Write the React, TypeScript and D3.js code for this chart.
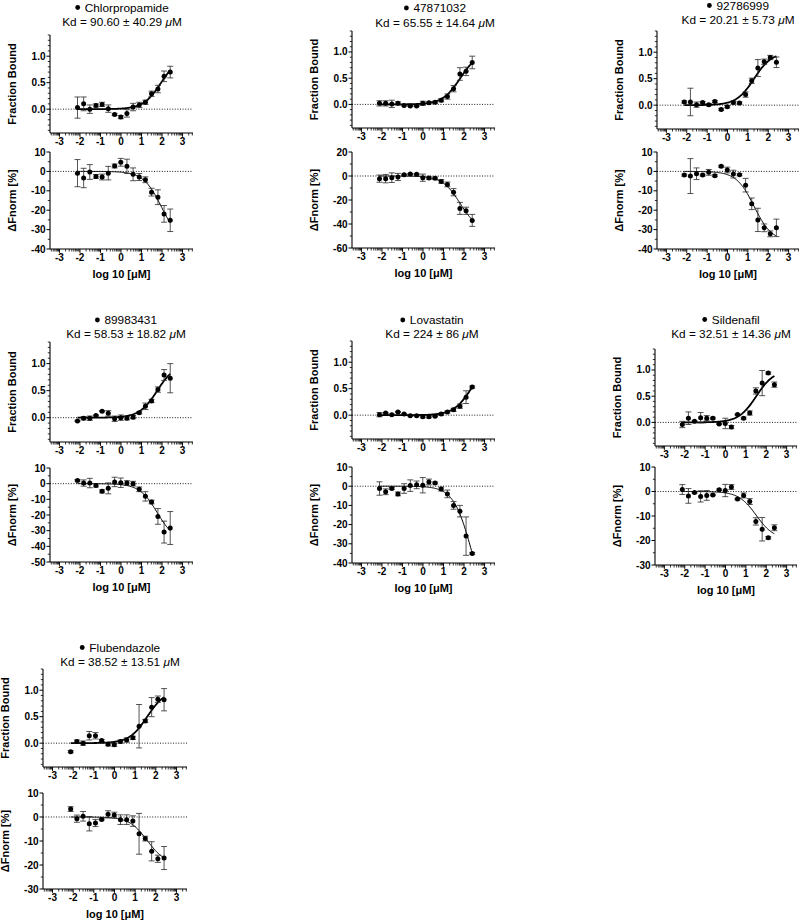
import React from 'react';
import * as d3 from 'd3';

// log10 of concentration [µM], 16-point serial dilution from 250 µM
const logConc = [-2.12, -1.82, -1.52, -1.22, -0.92, -0.62, -0.31, -0.01, 0.29, 0.59, 0.89, 1.19, 1.49, 1.80, 2.10, 2.40];

const compounds = ['Chlorpropamide', '47871032', '92786999', '89983431', 'Lovastatin', 'Sildenafil', 'Flubendazole'];
const kdValues = [90.60, 65.55, 20.21, 58.53, 224, 32.51, 38.52];
const kdLabels = ['90.60 ± 40.29', '65.55 ± 14.64', '20.21 ± 5.73', '58.53 ± 18.82', '224 ± 86', '32.51 ± 14.36', '38.52 ± 13.51'];
// fitted ΔFnorm amplitude per compound
const fnormAmplitude = [-36, -46, -36, -37, -66, -19.5, -19.6];

// Fraction bound (mean, error) per compound
const fbChlorpropamide = [0.03, 0.10, 0.00, 0.07, 0.09, 0.01, -0.10, -0.15, -0.08, 0.04, 0.08, 0.13, 0.29, 0.38, 0.62, 0.70];
const fbErrChlorpropamide = [0.20, 0.13, 0.08, 0.03, 0.04, 0.07, 0.02, 0.03, 0.07, 0.07, 0.05, 0.04, 0.05, 0.07, 0.10, 0.11];
const fb47871032 = [0.02, 0.02, 0.01, 0.02, -0.02, -0.03, -0.03, 0.02, 0.03, 0.04, 0.08, 0.15, 0.30, 0.58, 0.63, 0.80];
const fbErr47871032 = [0.05, 0.05, 0.07, 0.03, 0.01, 0.01, 0.01, 0.04, 0.02, 0.02, 0.03, 0.05, 0.06, 0.12, 0.08, 0.12];
const fb92786999 = [0.06, 0.06, 0.01, 0.05, 0.01, 0.07, -0.08, -0.03, 0.05, 0.04, 0.20, 0.46, 0.70, 0.82, 0.90, 0.81];
const fbErr92786999 = [0.02, 0.26, 0.05, 0.02, 0.02, 0.02, 0.02, 0.02, 0.03, 0.02, 0.05, 0.05, 0.16, 0.05, 0.04, 0.10];
const fb89983431 = [-0.06, -0.01, -0.01, 0.04, 0.12, 0.08, -0.02, 0.00, -0.01, 0.01, 0.09, 0.21, 0.31, 0.52, 0.79, 0.73];
const fbErr89983431 = [0.01, 0.03, 0.04, 0.01, 0.01, 0.05, 0.05, 0.05, 0.03, 0.03, 0.02, 0.06, 0.03, 0.05, 0.10, 0.27];
const fbLovastatin = [0.01, 0.04, 0.01, 0.06, 0.02, -0.01, -0.01, -0.03, -0.03, -0.02, 0.02, 0.06, 0.10, 0.17, 0.34, 0.53];
const fbErrLovastatin = [0.04, 0.01, 0.01, 0.01, 0.01, 0.01, 0.01, 0.02, 0.02, 0.01, 0.02, 0.02, 0.03, 0.04, 0.12, 0.02];
const fbSildenafil = [-0.04, 0.08, 0.02, 0.09, 0.08, 0.08, -0.03, -0.02, -0.09, 0.15, 0.08, 0.18, 0.60, 0.75, 0.94, 0.72];
const fbErrSildenafil = [0.06, 0.12, 0.01, 0.10, 0.05, 0.02, 0.01, 0.10, 0.03, 0.01, 0.02, 0.04, 0.06, 0.24, 0.02, 0.05];
const fbFlubendazole = [-0.16, 0.03, 0.00, 0.14, 0.14, 0.05, -0.02, -0.03, 0.03, 0.06, 0.10, 0.32, 0.42, 0.68, 0.83, 0.82];
const fbErrFlubendazole = [0.02, 0.03, 0.04, 0.08, 0.06, 0.02, 0.03, 0.03, 0.03, 0.04, 0.03, 0.41, 0.03, 0.18, 0.06, 0.21];

// ΔFnorm [%] (mean, error) per compound
const fnChlorpropamide = [-0.9, -3.4, -0.3, -2.6, -2.9, -0.9, 2.8, 4.7, 2.6, -1.5, -2.9, -4.3, -10.7, -13.3, -21.9, -25.2];
const fnErrChlorpropamide = [7, 5, 3.8, 1, 1.5, 3.5, 1, 2, 3.7, 3.3, 1.8, 1.5, 2, 3.8, 4.3, 5.8];
const fn47871032 = [-2.2, -2.2, -1.4, -0.8, 1.1, 1.7, 1.4, -1.4, -1.7, -1.9, -4.5, -7, -13.5, -27, -29, -37];
const fnErr47871032 = [3, 3.5, 4, 3, 0.5, 0.5, 0.5, 3, 1, 1, 1.5, 2, 3, 5, 3, 5];
const fn92786999 = [-1.9, -2.4, -1.2, -1.9, -0.5, -2.2, 2.6, 0.7, -1.4, -1.7, -7.1, -16.7, -25, -29.1, -32.2, -29.1];
const fnErr92786999 = [0.5, 9, 3, 0.5, 1.5, 0.5, 0.5, 1.5, 2, 0.5, 3.5, 3, 6, 2, 1.5, 4.5];
const fn89983431 = [2.1, 0.4, 0.4, -1.1, -4.9, -3.0, 1.1, 0.6, 0.4, 0.0, -3.6, -8.1, -11.7, -20.9, -30.9, -28.3];
const fnErr89983431 = [0.5, 2, 3, 1, 1, 3.5, 3, 3, 1.5, 1.5, 1.5, 3, 1.2, 5, 7, 10.5];
const fnLovastatin = [-1.2, -2.9, -1.2, -4.0, -1.2, 0.3, 0.7, 0.5, 2.2, 1.7, -1.5, -4, -10, -13, -26, -35];
const fnErrLovastatin = [3.5, 1.5, 0.5, 1, 2.5, 3, 2, 4, 1.5, 0.5, 1, 2, 2, 3, 10, 0.5];
const fnSildenafil = [0.8, -1.8, -0.4, -2.0, -1.6, -1.4, 0.7, 0.4, 1.8, -3.1, -1.6, -4.1, -12.2, -15.4, -18.9, -14.8];
const fnErrSildenafil = [2, 3, 0.3, 2.3, 2, 0.3, 0.3, 2.5, 1, 0.3, 1, 1.2, 1.5, 4.8, 0.5, 1.2];
const fnFlubendazole = [3.3, -0.7, 0.3, -2.8, -2.5, -1.0, 1.1, 0.8, -1.1, -1.1, -1.7, -7.0, -9.0, -14.3, -17.4, -17.1];
const fnErrFlubendazole = [1, 1.5, 2, 3, 1.5, 0.3, 1.5, 1.2, 2, 2, 2.2, 8.5, 1, 4, 1.5, 4.8];

const fractionBound = [fbChlorpropamide, fb47871032, fb92786999, fb89983431, fbLovastatin, fbSildenafil, fbFlubendazole];
const fractionBoundErr = [fbErrChlorpropamide, fbErr47871032, fbErr92786999, fbErr89983431, fbErrLovastatin, fbErrSildenafil, fbErrFlubendazole];
const fnorm = [fnChlorpropamide, fn47871032, fn92786999, fn89983431, fnLovastatin, fnSildenafil, fnFlubendazole];
const fnormErr = [fnErrChlorpropamide, fnErr47871032, fnErr92786999, fnErr89983431, fnErrLovastatin, fnErrSildenafil, fnErrFlubendazole];

// axis settings for the ΔFnorm plots
const fnormDomains = [[-40, 10], [-60, 20], [-40, 10], [-50, 10], [-40, 10], [-30, 10], [-30, 10]];
const fnormSteps = [10, 20, 10, 10, 10, 10, 10];

// page layout (pixels)
const layout = [
    { x0: 50, x1: 193, top: [35, 133], bot: [152, 249], titleX: 122, titleY: [11.5, 25.5] },
    { x0: 352, x1: 495, top: [31, 128], bot: [152, 248], titleX: 435, titleY: [12, 27] },
    { x0: 657, x1: 799, top: [31, 129], bot: [152, 249], titleX: 738, titleY: [9.5, 23.5] },
    { x0: 50, x1: 193, top: [342, 442], bot: [468, 562], titleX: 126, titleY: [324, 338] },
    { x0: 352, x1: 495, top: [341, 439], bot: [467, 563], titleX: 432, titleY: [324, 338] },
    { x0: 655, x1: 797, top: [349, 446], bot: [467, 565], titleX: 731, titleY: [323.5, 337.5] },
    { x0: 43, x1: 187, top: [669, 767], bot: [793, 889], titleX: 120, titleY: [651.5, 665.5] },
];

const FONT = '"Liberation Sans", Arial, Helvetica, sans-serif';
const X_DOMAIN = [-3.46, 3.51];
const TITLE_SIZE = 11.8;

let measureCtx: CanvasRenderingContext2D | null = null;
function textWidth(text: string, font: string) {
    if (!measureCtx) measureCtx = document.createElement('canvas').getContext('2d');
    if (!measureCtx) return text.length * 6;
    measureCtx.font = font;
    return measureCtx.measureText(text).width;
}

const xMinor: number[] = [];
for (let n = -4; n <= 3; n++) {
    for (let k = 2; k <= 9; k++) {
        const v = n + Math.log10(k);
        if (v > X_DOMAIN[0] && v < X_DOMAIN[1]) xMinor.push(v);
    }
}
const xMajor = [-3, -2, -1, 0, 1, 2, 3];

function XAxis({ x, y }: { x: d3.ScaleLinear<number, number>; y: number }) {
    const [a, b] = x.range();
    return (
        <g>
            <line x1={a} x2={b} y1={y} y2={y} stroke="#000" strokeWidth={1.1} />
            {xMinor.map((v, i) => (
                <line key={'m' + i} x1={x(v)} x2={x(v)} y1={y} y2={y + 2.5} stroke="#000" strokeWidth={0.8} />
            ))}
            {xMajor.map(v => (
                <g key={v}>
                    <line x1={x(v)} x2={x(v)} y1={y} y2={y + 3.8} stroke="#000" strokeWidth={1} />
                    <text x={x(v)} y={y + 12} textAnchor="middle" fontSize={10} fontWeight="bold" fontFamily={FONT}>{v}</text>
                </g>
            ))}
        </g>
    );
}

function YAxis({ y, x0, majors, minors, fmt, title }: any) {
    const [b, t] = y.range();
    return (
        <g>
            <line x1={x0} x2={x0} y1={t} y2={b} stroke="#000" strokeWidth={1.1} />
            {minors.map((v: number, i: number) => (
                <line key={'m' + i} x1={x0 - 2.2} x2={x0} y1={y(v)} y2={y(v)} stroke="#000" strokeWidth={0.8} />
            ))}
            {majors.map((v: number) => (
                <g key={v}>
                    <line x1={x0 - 3.5} x2={x0} y1={y(v)} y2={y(v)} stroke="#000" strokeWidth={1} />
                    <text x={x0 - 4.5} y={y(v)} dy="0.35em" textAnchor="end" fontSize={10} fontWeight="bold" fontFamily={FONT}>{fmt(v)}</text>
                </g>
            ))}
            <text transform={`translate(${x0 - 38},${(t + b) / 2}) rotate(-90)`} textAnchor="middle" dy="0.35em"
                fontSize={11} fontWeight="bold" fontFamily={FONT}>{title}</text>
        </g>
    );
}

function Points({ x, y, values, errors }: any) {
    return (
        <g>
            {values.map((v: number, i: number) => {
                const cx = x(logConc[i]);
                const e = errors[i];
                return (
                    <g key={i}>
                        <g stroke="#2a2a2a" strokeWidth={0.8}>
                            <line x1={cx} x2={cx} y1={y(v - e)} y2={y(v + e)} />
                            <line x1={cx - 3} x2={cx + 3} y1={y(v - e)} y2={y(v - e)} />
                            <line x1={cx - 3} x2={cx + 3} y1={y(v + e)} y2={y(v + e)} />
                        </g>
                        <circle cx={cx} cy={y(v)} r={2.5} fill="#000" />
                    </g>
                );
            })}
        </g>
    );
}

function Panel({ index }: { index: number }) {
    const p = layout[index];
    const kd = kdValues[index];
    const amp = fnormAmplitude[index];
    const x = d3.scaleLinear().domain(X_DOMAIN).range([p.x0, p.x1]);
    const yTop = d3.scaleLinear().domain([-0.45, 1.4]).range([p.top[1], p.top[0]]);
    const [lo, hi] = fnormDomains[index];
    const step = fnormSteps[index];
    const yBot = d3.scaleLinear().domain([lo, hi]).range([p.bot[1], p.bot[0]]);

    const fitX = d3.range(0, 121).map(i => logConc[0] + (logConc[logConc.length - 1] - logConc[0]) * i / 120);
    const bound = (lx: number) => { const c = Math.pow(10, lx); return c / (c + kd); };
    const topLine = d3.line<number>().x(d => x(d)).y(d => yTop(bound(d)));
    const botLine = d3.line<number>().x(d => x(d)).y(d => yBot(amp * bound(d)));

    const topMajors = [0, 0.5, 1.0];
    const topMinors = d3.range(-4, 15).map(v => v / 10).filter(v => !topMajors.some(m => Math.abs(m - v) < 1e-6));
    const botMajors = d3.range(lo, hi + step / 2, step);
    const botMinors = botMajors.slice(0, -1).map(v => v + step / 2);

    const nameFont = `${TITLE_SIZE}px ${FONT}`;
    const nameW = textWidth(compounds[index], nameFont);
    const groupW = nameW + 9.5;
    const left = p.titleX - groupW / 2;

    return (
        <g>
            <circle cx={left + 2.4} cy={p.titleY[0] - 4} r={2.4} fill="#000" />
            <text x={left + 9.5} y={p.titleY[0]} fontSize={TITLE_SIZE} fontFamily={FONT}>{compounds[index]}</text>
            <text x={p.titleX} y={p.titleY[1]} textAnchor="middle" fontSize={TITLE_SIZE} fontFamily={FONT}>
                {`Kd = ${kdLabels[index]} `}<tspan fontStyle="italic">μ</tspan>M
            </text>

            {/* Fraction bound */}
            <line x1={p.x0} x2={p.x1} y1={yTop(0)} y2={yTop(0)} stroke="#000" strokeWidth={0.9} strokeDasharray="1,1.6" />
            <path d={topLine(fitX) || ''} fill="none" stroke="#000" strokeWidth={1.8} />
            <Points x={x} y={yTop} values={fractionBound[index]} errors={fractionBoundErr[index]} />
            <YAxis y={yTop} x0={p.x0} majors={topMajors} minors={topMinors} fmt={(v: number) => v.toFixed(1)} title="Fraction Bound" />
            <XAxis x={x} y={p.top[1]} />

            {/* ΔFnorm */}
            <line x1={p.x0} x2={p.x1} y1={yBot(0)} y2={yBot(0)} stroke="#000" strokeWidth={0.9} strokeDasharray="1,1.6" />
            <path d={botLine(fitX) || ''} fill="none" stroke="#000" strokeWidth={1} />
            <Points x={x} y={yBot} values={fnorm[index]} errors={fnormErr[index]} />
            <YAxis y={yBot} x0={p.x0} majors={botMajors} minors={botMinors} fmt={(v: number) => String(v)} title="ΔFnorm [%]" />
            <XAxis x={x} y={p.bot[1]} />
            <text x={(p.x0 + p.x1) / 2} y={p.bot[1] + 29} textAnchor="middle" fontSize={11} fontWeight="bold" fontFamily={FONT}>log 10 [μM]</text>
        </g>
    );
}

export default function App() {
    return (
        <svg width={800} height={920} style={{ position: 'absolute', left: 0, top: 0, background: '#fff' }}>
            <rect width={800} height={920} fill="#fff" />
            {compounds.map((c, i) => <Panel key={c} index={i} />)}
        </svg>
    );
}
